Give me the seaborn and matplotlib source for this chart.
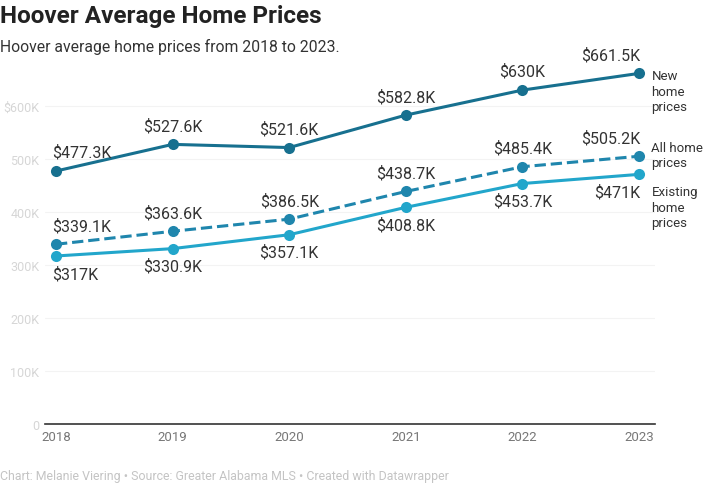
import matplotlib
matplotlib.use("Agg")
import matplotlib.pyplot as plt
import numpy as np
import pandas as pd
import seaborn as sns

years = [2018, 2019, 2020, 2021, 2022, 2023]
new_home = [477.3, 527.6, 521.6, 582.8, 630.0, 661.5]
all_home = [339.1, 363.6, 386.5, 438.7, 485.4, 505.2]
existing_home = [317.0, 330.9, 357.1, 408.8, 453.7, 471.0]

new_labels = ["$477.3K", "$527.6K", "$521.6K", "$582.8K", "$630K", "$661.5K"]
all_labels = ["$339.1K", "$363.6K", "$386.5K", "$438.7K", "$485.4K", "$505.2K"]
existing_labels = ["$317K", "$330.9K", "$357.1K", "$408.8K", "$453.7K", "$471K"]

y_ticks = [0, 100, 200, 300, 400, 500, 600]
y_tick_labels = ["0", "100K", "200K", "300K", "400K", "500K", "$600K"]

series_names = ["New\nhome\nprices", "All home\nprices", "Existing\nhome\nprices"]

sns.set_theme(style="white")
plt.rcParams['font.family'] = ['Roboto', 'DejaVu Sans']

df = pd.DataFrame({
    "year": years * 3,
    "price": new_home + all_home + existing_home,
    "series": ["new"] * 6 + ["all"] * 6 + ["existing"] * 6,
})

colors = {"new": "#17708f", "all": "#1f86ad", "existing": "#22a6cb"}

fig = plt.figure(figsize=(7.19, 4.85), dpi=100)
ax = fig.add_axes([45 / 719, 1 - 425 / 485, 610 / 719, 365 / 485])

for name, dashed in [("existing", False), ("all", True), ("new", False)]:
    d = df[df["series"] == name]
    sns.lineplot(data=d, x="year", y="price", ax=ax, color=colors[name], linewidth=2.2,
                 marker="o", markersize=8, markeredgewidth=0,
                 linestyle="--" if dashed else "-", legend=False)

ax.set_xlim(2018 - 11 / 116.6, 2023 + 16 / 116.6)
ax.set_ylim(0, 365 / 0.53)
ax.set_yticks(y_ticks)
ax.set_yticklabels(y_tick_labels, color="#d6d6d6", fontsize=9)
ax.set_xticks(years)
ax.set_xticklabels([str(y) for y in years], color="#777777", fontsize=9.5)
ax.tick_params(axis="both", length=0, pad=4)
ax.set_xlabel("")
ax.set_ylabel("")
for yv in y_ticks[1:]:
    ax.axhline(yv, color="#f3f3f3", linewidth=0.8, zorder=0)
for s in ["top", "right", "left"]:
    ax.spines[s].set_visible(False)
ax.spines["bottom"].set_color("#333333")
ax.spines["bottom"].set_linewidth(1.2)

label_kw = dict(textcoords="offset points", fontsize=11.5, color="#333333")
for i, yr in enumerate(years):
    if i == 0:
        ha, dx = "left", -3
    elif i == len(years) - 1:
        ha, dx = "right", 1
    else:
        ha, dx = "center", 0
    ax.annotate(new_labels[i], (yr, new_home[i]), xytext=(dx, 8), ha=ha, va="bottom", **label_kw)
    ax.annotate(all_labels[i], (yr, all_home[i]), xytext=(dx, 8), ha=ha, va="bottom", **label_kw)
    ax.annotate(existing_labels[i], (yr, existing_home[i]), xytext=(dx, -7), ha=ha, va="top", **label_kw)

ends = [new_home[-1], all_home[-1], existing_home[-1]]
placements = [(3, "top"), (1, "center"), (-8, "top")]
for name, val, (off, va) in zip(series_names, ends, placements):
    ax.annotate(name, (years[-1], val), xytext=(9, off), textcoords="offset points",
                ha="left", va=va, fontsize=9.5, color="#333333", linespacing=1.25,
                annotation_clip=False)

fig.text(0.0, 1 - 17 / 485, "Hoover Average Home Prices", fontsize=17.5, fontweight="bold",
         color="#222222", va="center", ha="left")
fig.text(0.0, 1 - 47 / 485, "Hoover average home prices from 2018 to 2023.", fontsize=11.3,
         color="#333333", va="center", ha="left")
fig.text(0.0, 1 - 477 / 485, "Chart: Melanie Viering \u2022 Source: Greater Alabama MLS \u2022 Created with Datawrapper",
         fontsize=8.9, color="#c4c4c4", va="center", ha="left")

fig.savefig("out.png", dpi=100)
